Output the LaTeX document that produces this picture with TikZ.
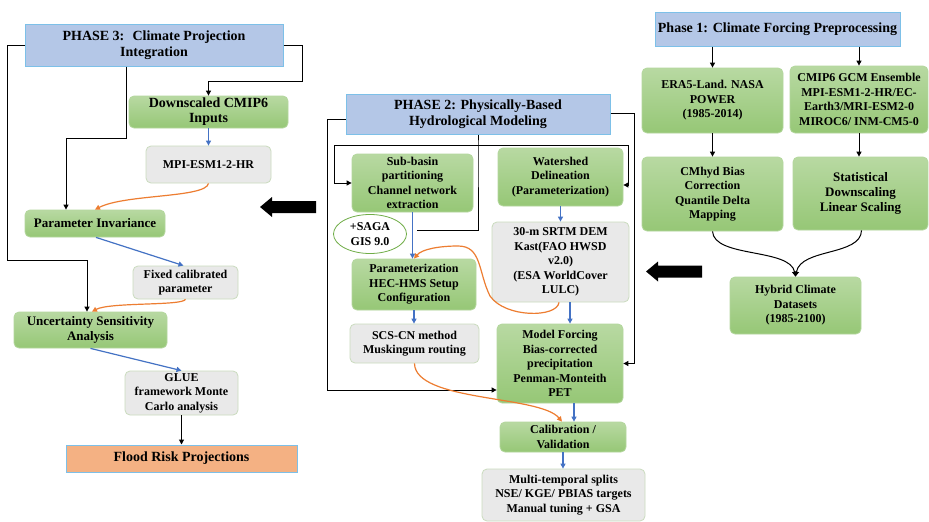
\documentclass[tikz,border=0pt]{standalone}
\usepackage{fontspec}
\setmainfont{Liberation Serif}
\usetikzlibrary{calc,arrows.meta,shapes.geometric}

\definecolor{phaseFill}{RGB}{180,199,231}
\definecolor{phaseLine}{RGB}{125,192,232}
\definecolor{greenTop}{RGB}{184,217,162}
\definecolor{greenBot}{RGB}{150,199,118}
\definecolor{greenLine}{RGB}{180,215,158}
\definecolor{grayFill}{RGB}{233,233,233}
\definecolor{grayLine}{RGB}{202,219,190}
\definecolor{floodFill}{RGB}{244,177,131}
\definecolor{lineBlue}{RGB}{68,114,196}
\definecolor{lineOrange}{RGB}{237,125,49}
\definecolor{sagaGreen}{RGB}{112,173,71}

\begin{document}
\begin{tikzpicture}[x=1pt,y=-1pt,
    txt/.style={font=\bfseries\fontsize{12}{14.5}\selectfont, align=center, inner sep=0pt},
    wh/.style 2 args={minimum width=#1pt, minimum height=#2pt},
    greenBox/.style={txt, rectangle, rounded corners=5pt, draw=greenLine, line width=0.8pt, top color=greenTop, bottom color=greenBot},
    grayBox/.style={txt, rectangle, rounded corners=5pt, draw=grayLine, line width=0.8pt, fill=grayFill},
    phaseBox/.style={txt, rectangle, draw=phaseLine, line width=1pt, fill=phaseFill, font=\bfseries\fontsize{14}{16}\selectfont},
    floodBox/.style={txt, rectangle, draw=phaseLine, line width=1pt, fill=floodFill, font=\bfseries\fontsize{14}{16}\selectfont},
    sagaNode/.style={txt, ellipse, draw=sagaGreen, fill=white, line width=0.8pt},
    bigFont/.style={font=\bfseries\fontsize{13}{15}\selectfont},
    blackLine/.style={draw=black, line width=1pt},
    blackArr/.style={blackLine, -{Triangle[length=5pt,width=5pt]}},
    blueArr/.style={draw=lineBlue, line width=1.2pt, -{Triangle[length=5pt,width=5pt]}},
    orangeArr/.style={draw=lineOrange, line width=1.2pt, -{Triangle[length=5pt,width=5pt]}},
]

\newcommand{\drawBigArrow}[2]{
    \fill (#1,#2) -- ++(12,-10) -- ++(0,4) -- ++(44,0) -- ++(0,12) -- ++(-44,0) -- ++(0,4) -- cycle;
}

\path[use as bounding box, fill=white] (0,0) rectangle (929,522);

% phase 3
\node[phaseBox, wh={258}{42}] (nPhaseThree) at (154,45) {PHASE 3:~ Climate Projection\\Integration};
\node[greenBox, wh={159}{32}, font=\bfseries\fontsize{14}{15}\selectfont] (nDownCmip) at (208.5,112) {Downscaled CMIP6\\Inputs};
\node[grayBox, wh={125}{37}] (nMpi) at (208.5,164.5) {MPI-ESM1-2-HR};
\node[greenBox, wh={140}{27}, bigFont] (nParInv) at (95,223.5) {Parameter Invariance};
\node[grayBox, wh={105}{33}] (nFixed) at (185.5,282.5) {Fixed calibrated\\parameter};
\node[greenBox, wh={153}{36}, bigFont] (nUncert) at (90.5,330) {Uncertainty Sensitivity\\Analysis};
\node[grayBox, wh={113}{44}] (nGlue) at (181.5,393) {GLUE\\framework Monte\\Carlo analysis};
\node[floodBox, wh={231}{27}] (nFlood) at (181.5,458.5) {Flood Risk Projections};

\coordinate (cThreeLeft) at (7,260);
\coordinate (cThreeRight) at (302,81);
\coordinate (cThreeMid) at (66,138);
\draw[blackArr] (nPhaseThree.west) -| (cThreeLeft) -| ([xshift=-3.5]nUncert.north);
\draw[blackArr] (nPhaseThree.east) -| (cThreeRight) -| (nDownCmip.north);
\draw[blackArr] ([xshift=-28]nPhaseThree.south) |- (cThreeMid) -- ([xshift=-29]nParInv.north);
\draw[blueArr] (nDownCmip.south) -- (nMpi.north);
\draw[orangeArr] (nMpi.south) .. controls (206,198) and (125,194) .. (nParInv.north);
\draw[blueArr] ([xshift=1]nParInv.south) -- ([xshift=-2]nFixed.north);
\draw[orangeArr] (nFixed.south) .. controls (182,306) and (110,302) .. ([xshift=1.5]nUncert.north);
\draw[blueArr] (nUncert.south) -- (nGlue.north);
\draw[blackArr] (nGlue.south) -- (nFlood.north);

\drawBigArrow{260}{207}

% phase 2
\node[phaseBox, wh={264}{40}] (nPhaseTwo) at (478,114) {PHASE 2: Physically-Based\\Hydrological Modeling};
\node[greenBox, wh={121}{58}] (nSubBasin) at (412.5,183) {Sub-basin\\partitioning\\Channel network\\extraction};
\node[greenBox, wh={125}{58}] (nWatershed) at (560.5,177) {Watershed\\Delineation\\(Parameterization)};
\node[sagaNode, wh={73}{39}] (nSaga) at (370,234) {+SAGA\\GIS 9.0};
\node[greenBox, wh={124}{51}] (nParam) at (414,284.5) {Parameterization\\HEC-HMS Setup\\Configuration};
\node[grayBox, wh={137}{80}] (nSrtm) at (560.5,262) {30-m SRTM DEM\\Kast(FAO HWSD\\v2.0)\\(ESA WorldCover\\LULC)};
\node[grayBox, wh={129}{39}] (nScs) at (414.5,343.5) {SCS-CN method\\Muskingum routing};
\node[greenBox, wh={126}{79}] (nForcing) at (560,363.5) {Model Forcing\\Bias-corrected\\precipitation\\Penman-Monteith\\PET};
\node[greenBox, wh={126}{30}] (nCalib) at (563,437) {Calibration /\\Validation};
\node[grayBox, wh={163}{52}] (nMulti) at (563.5,495) {Multi-temporal splits\\NSE/ KGE/ PBIAS targets\\Manual tuning + GSA};

\coordinate (cTwoLeft) at (327,390);
\coordinate (cTwoRight) at (634,363.5);
\coordinate (cTwoJoin) at (478,145);
\coordinate (cTwoJoinL) at (334,145);
\coordinate (cTwoJoinR) at (628,145);
\coordinate (cTwoEnd) at (417,230);
\draw[blackArr] ([yshift=-5]nPhaseTwo.west) -| (cTwoLeft) -- ([yshift=-26.5]nForcing.west);
\draw[blackArr] ([yshift=1]nPhaseTwo.east) -| (cTwoRight) -- (nForcing.east);
\draw[blackLine] (nPhaseTwo.south) -- (cTwoJoin) |- (cTwoEnd);
\draw[blackArr] (cTwoJoin) -- (cTwoJoinL) |- (nSubBasin.west);
\draw[blackArr] (cTwoJoin) -- (cTwoJoinR) |- ([yshift=-8]nWatershed.east);
\draw[blueArr] (nSubBasin.south) -- (nSubBasin.south |- nParam.north);
\draw[blueArr] (nWatershed.south) -- (nSrtm.north);
\draw[orangeArr] ([xshift=-1.5]nSrtm.south) .. controls (557,318) and (505,318) .. (490,296)
    .. controls (478,272) and (482,246) .. (458,246) .. controls (440,246) and (422,249) .. (nParam.north);
\draw[blueArr] (nParam.south) -- (nParam.south |- nScs.north);
\draw[blueArr] ([xshift=9.5]nSrtm.south) -- ([xshift=9.5]nSrtm.south |- nForcing.north);
\draw[blueArr] ([xshift=14]nForcing.south) -- ([xshift=14]nForcing.south |- nCalib.north);
\draw[orangeArr] (nScs.south) .. controls (415,402) and (540,395) .. ([xshift=-1]nCalib.north);
\draw[blueArr] (nCalib.south) -- (nCalib.south |- nMulti.north);

\drawBigArrow{646}{271.5}

% phase 1
\node[phaseBox, wh={245}{34}] (nPhaseOne) at (777.5,29) {Phase 1: Climate Forcing Preprocessing};
\node[greenBox, wh={141}{65}] (nEra) at (712.5,100.5) {ERA5-Land. NASA\\POWER\\(1985-2014)};
\node[greenBox, wh={138}{67}] (nCmip) at (859,99.5) {CMIP6 GCM Ensemble\\MPI-ESM1-2-HR/EC-\\Earth3/MRI-ESM2-0\\MIROC6/ INM-CM5-0};
\node[greenBox, wh={141}{74}] (nCmhyd) at (712.5,194) {CMhyd Bias\\Correction\\Quantile Delta\\Mapping};
\node[greenBox, wh={135}{73}, bigFont] (nStat) at (860.5,193.5) {Statistical\\Downscaling\\Linear Scaling};
\node[greenBox, wh={131}{57}] (nHybrid) at (795.5,305.5) {Hybrid Climate\\Datasets\\(1985-2100)};

\draw[blackArr] (nEra.north |- nPhaseOne.south) -- (nEra.north);
\draw[blackArr] (nCmip.north |- nPhaseOne.south) -- (nCmip.north);
\draw[blackArr] (nEra.south) -- (nCmhyd.north);
\draw[blackArr] (nCmip.south) -- (nCmip.south |- nStat.north);
\draw[blackArr] (nCmhyd.south) .. controls (714,258) and (790,248) .. (nHybrid.north);
\draw[blackArr] ([xshift=1]nStat.south) .. controls (861,256) and (801,248) .. (nHybrid.north);

\end{tikzpicture}
\end{document}
